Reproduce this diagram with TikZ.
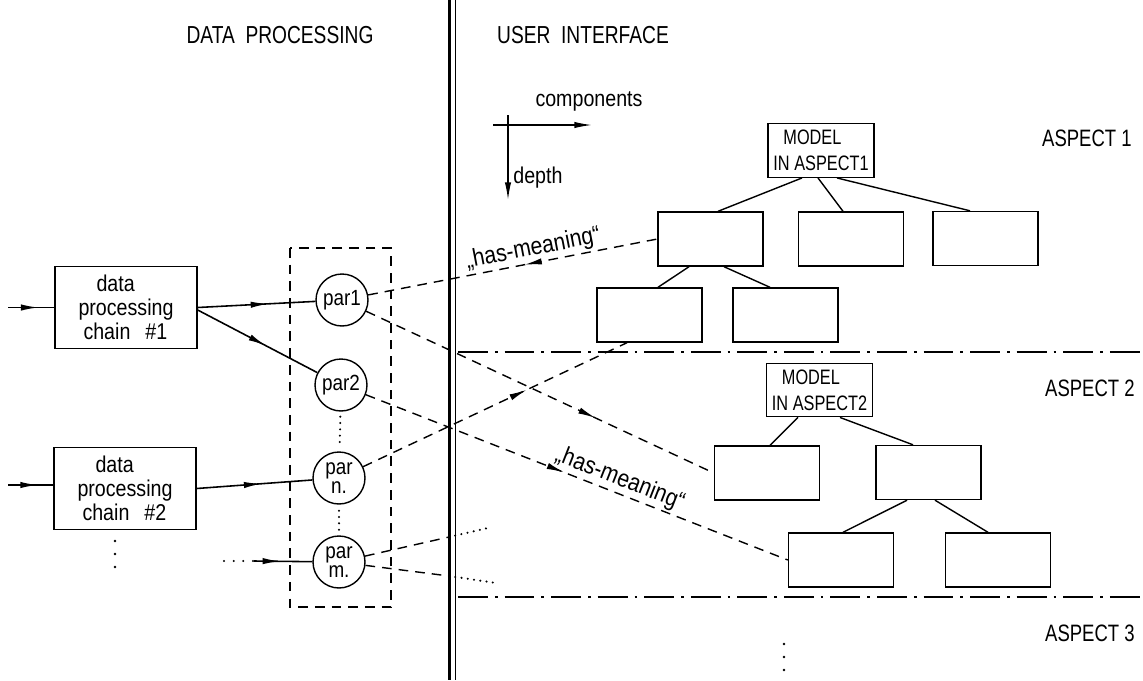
\documentclass[tikz,border=0pt]{standalone}
\usepackage{fontspec}
\setmainfont{Liberation Sans}[FakeStretch=0.86]
\newfontfamily\capsfont{Liberation Sans}[FakeStretch=0.78]
\usetikzlibrary{arrows.meta,decorations.markings}

\begin{document}
\begin{tikzpicture}[x=0.02cm, y=-0.02cm,
		flow/.style={postaction={decorate, decoration={markings, mark=at position #1 with {\arrow{Latex[length=10pt, width=3.6pt]}}}}},
		flowback/.style={postaction={decorate, decoration={markings, mark=at position #1 with {\arrowreversed{Latex[length=10pt, width=3.6pt]}}}}}]
		% Estilos
		\tikzstyle{chainbox} = [rectangle, draw=black, line width=0.8pt, minimum width=2.84cm, minimum height=1.64cm, inner sep=0pt, align=left, font=\fontsize{13}{13.5}\selectfont]
		\tikzstyle{param} = [circle, draw=black, line width=0.8pt, minimum size=1.04cm, inner sep=0pt, align=center, font=\fontsize{12.5}{10.5}\selectfont]
		\tikzstyle{model} = [rectangle, draw=black, line width=0.8pt, minimum width=2.12cm, minimum height=1.07cm, inner sep=0pt, align=left, font=\capsfont\fontsize{11.9}{15}\selectfont]
		\tikzstyle{compbox} = [rectangle, draw=black, line width=0.8pt, minimum width=2.1cm, minimum height=1.08cm, inner sep=0pt]
		\tikzstyle{title} = [font=\capsfont\fontsize{14}{16}\selectfont]
		\tikzstyle{aspect} = [anchor=west, font=\capsfont\fontsize{13.5}{15}\selectfont]
		\tikzstyle{lowlabel} = [font=\fontsize{13}{15}\selectfont]
		\tikzstyle{hm} = [font=\fontsize{14}{15}\selectfont, inner sep=1pt]
		\tikzstyle{flowline} = [line width=0.9pt]
		\tikzstyle{branch} = [line width=0.8pt]
		\tikzstyle{link} = [line width=0.8pt, dash pattern=on 5.5pt off 4pt]
		\tikzstyle{pontos} = [line width=1.3pt, line cap=round, dash pattern=on 0pt off 3.6pt]
		\tikzstyle{reticencias} = [line width=1.5pt, line cap=round, dash pattern=on 0pt off 0.26cm]
		\tikzstyle{aspectline} = [line width=0.8pt, dash pattern=on 17pt off 4pt on 1.5pt off 4pt]
		\tikzstyle{axis} = [line width=0.8pt, -{Latex[length=10pt, width=3.6pt]}]
		\useasboundingbox (0,0) rectangle (1143,680);
		% Titulos e divisoria
		\node (dptitle) [title] at (280,35) {DATA\ \ PROCESSING};
		\node (uititle) [title] at (583,35) {USER\ \ INTERFACE};
		\draw[line width=1.4pt] (449.5,0) -- (449.5,680);
		\draw[line width=1pt] (455.5,0) -- (455.5,680);
		% Cadeias de processamento
		\node (chain1) [chainbox] at (126,307.5) {\hspace*{0.36cm}data\\processing\\\hspace*{0.1cm}chain\hspace{0.3cm}\#1};
		\node (chain2) [chainbox] at (125,488.5) {\hspace*{0.36cm}data\\processing\\\hspace*{0.1cm}chain\hspace{0.3cm}\#2};
		\draw[reticencias] (115,541) -- (115,568);
		% Parametros
		\draw[line width=0.8pt, dash pattern=on 5.5pt off 4pt] (290,248) rectangle (391,607);
		\node (par1) [param] at (342,300) {par1};
		\node (par2) [param] at (341,385) {par2};
		\node (parn) [param] at (339,478) {par\\n.};
		\node (parm) [param] at (339,562) {par\\m.};
		\draw[pontos, shorten <=0.1cm, shorten >=0.14cm] (par2) -- (parn);
		\draw[pontos, shorten <=0.12cm, shorten >=0.1cm] (parn) -- (parm);
		% Entradas
		\coordinate (in1) at (8,307.5);
		\coordinate (in2) at (8,485);
		\coordinate (pin0) at (224,561);
		\coordinate (pin1) at (254,561);
		\draw[flowline, flow=0.66] (in1) -- (in1 -| chain1.west);
		\draw[flowline, flow=0.66] (in2) -- (in2 -| chain2.west);
		\draw[pontos, dash pattern=on 0pt off 5.5pt] (pin0) -- (pin1);
		\draw[flowline, flow=0.45] (pin1) -- (parm);
		% Setas das cadeias
		\draw[flowline, flow=0.6] (chain1.east) -- (par1);
		\draw[flowline, flow=0.57] ([yshift=-0.05cm]chain1.east) -- (par2);
		\draw[flowline, flow=0.56] (chain2.east) -- (parn);
		% Eixos
		\coordinate (cx0) at (493,125);
		\coordinate (cx1) at (592,125);
		\coordinate (dy0) at (508,115);
		\coordinate (dy1) at (508,200);
		\draw[axis] (cx0) -- (cx1);
		\draw[axis] (dy0) -- (dy1);
		\node (comp) [lowlabel] at (589,101) {components};
		\node (depth) [lowlabel, anchor=west, inner sep=0pt] at (513,178) {depth};
		% Aspecto 1
		\node (mod1) [model] at (821,150.5) {\hspace*{0.2cm}MODEL\\IN ASPECT1};
		\node (a1) [compbox] at (710.5,239) {};
		\node (b1) [compbox] at (851,239) {};
		\node (c1) [compbox] at (985.5,238.5) {};
		\node (d1) [compbox] at (649.5,315) {};
		\node (e1) [compbox] at (785.5,315) {};
		\draw[branch] ([xshift=-0.38cm]mod1.south) -- ([xshift=0.15cm]a1.north);
		\draw[branch] ([xshift=-0.06cm]mod1.south) -- ([xshift=-0.16cm]b1.north);
		\draw[branch] ([xshift=0.32cm]mod1.south) -- ([xshift=-0.31cm]c1.north);
		\draw[branch] ([xshift=-0.43cm]a1.south) -- ([xshift=0.17cm]d1.north);
		\draw[branch] ([xshift=0.27cm]a1.south) -- ([xshift=-0.31cm]e1.north);
		\node (asp1) [aspect] at (1036,138) {ASPECT 1};
		% Aspecto 2
		\node (mod2) [model] at (819.5,390) {\hspace*{0.2cm}MODEL\\IN ASPECT2};
		\node (f2) [compbox] at (767,473) {};
		\node (h2) [compbox] at (928.5,472.5) {};
		\node (g2) [compbox] at (841,560) {};
		\node (i2) [compbox] at (998,560) {};
		\draw[branch] ([xshift=-0.43cm]mod2.south) -- ([xshift=0.06cm]f2.north);
		\draw[branch] ([xshift=0.41cm]mod2.south) -- ([xshift=-0.31cm]h2.north);
		\draw[branch] ([xshift=-0.43cm]h2.south) -- ([xshift=0.04cm]g2.north);
		\draw[branch] ([xshift=0.13cm]h2.south) -- ([xshift=-0.2cm]i2.north);
		\node (asp2) [aspect] at (1039,388) {ASPECT 2};
		% Aspecto 3
		\draw[aspectline] (458,352) -- (1143,352);
		\draw[aspectline] (458,597) -- (1143,597);
		\node (asp3) [aspect] at (1039,633) {ASPECT 3};
		\draw[reticencias] (784,644) -- (784,671);
		% Ligacoes has-meaning
		\draw[link, flowback=0.54] (par1) -- node[hm, sloped, above, pos=0.58] (hm1) {„has-meaning“} (a1.west);
		\draw[link, flow=0.66] (par1) -- (f2.west);
		\draw[link, flow=0.47] (par2) -- node[hm, sloped, above, pos=0.59] (hm2) {„has-meaning“} (g2.west);
		\draw[link, flow=0.62] (parn) -- ([xshift=-0.45cm]d1.south);
		\coordinate (mu1) at (449,537);
		\coordinate (mu2) at (492,527);
		\coordinate (ml1) at (449,576);
		\coordinate (ml2) at (496,583);
		\draw[link] (parm) -- (mu1);
		\draw[pontos] (mu1) -- (mu2);
		\draw[link] (parm) -- (ml1);
		\draw[pontos] (ml1) -- (ml2);
	\end{tikzpicture}
\end{document}
